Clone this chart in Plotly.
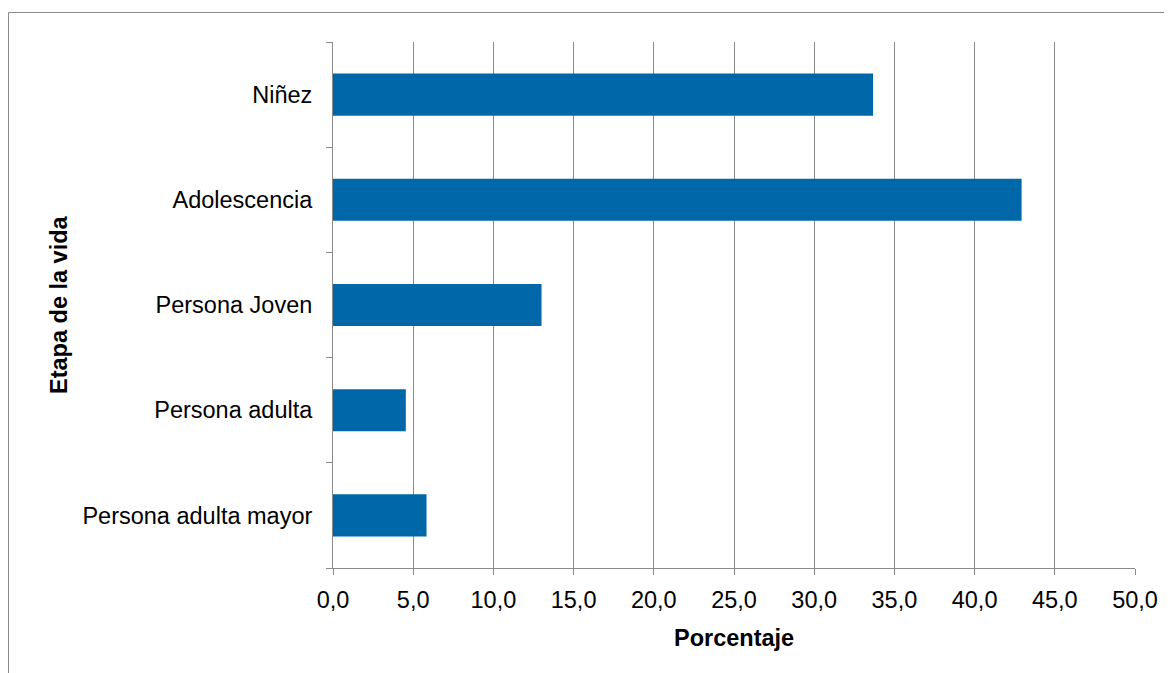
import plotly.graph_objects as go

categories = ["Niñez", "Adolescencia", "Persona Joven", "Persona adulta", "Persona adulta mayor"]
values = [33.67, 42.93, 13.0, 4.54, 5.83]
x_ticks = [0, 5, 10, 15, 20, 25, 30, 35, 40, 45, 50]

# page body has an 8px margin, so figure coords = screen coords - 8
OFF = 8
W, H = 1172, 673
PX0, PX1, PY0, PY1 = 333 - OFF, 1135 - OFF, 42 - OFF, 568 - OFF
L, R, T, B = PX0, W - PX1, PY0, H - PY1
PW, PH = PX1 - PX0, PY1 - PY0
FONT = "Liberation Sans, Arial, sans-serif"
FS = 23.5
GRID = "#8a8a8a"

fig = go.Figure(go.Bar(
    y=categories, x=values, orientation="h",
    marker=dict(color="#0068a9", line=dict(width=0)),
))

fig.update_layout(
    width=W, height=H,
    margin=dict(l=L, r=R, t=T, b=B, autoexpand=False),
    paper_bgcolor="white", plot_bgcolor="white",
    font=dict(family=FONT, size=FS, color="black"),
    bargap=0.6,
    showlegend=False,
    separators=",.",
    xaxis=dict(
        range=[0, 50], tickvals=x_ticks, tickformat=".1f",
        showgrid=True, gridcolor=GRID, gridwidth=1,
        showline=True, linecolor=GRID, linewidth=1,
        ticks="outside", ticklen=6, tickcolor=GRID, tickwidth=1,
        zeroline=False, fixedrange=True,
        ticklabelstandoff=5,
    ),
    yaxis=dict(
        categoryorder="array", categoryarray=categories[::-1],
        showgrid=False,
        showline=True, linecolor=GRID, linewidth=1,
        ticks="outside", ticklen=6, tickcolor=GRID, tickwidth=1,
        tickson="boundaries",
        zeroline=False, fixedrange=True,
        ticklabelstandoff=15,
    ),
    annotations=[
        dict(text="<b>Porcentaje</b>", xref="paper", yref="paper",
             x=0.5, y=-((638 - OFF) - PY1) / PH, xanchor="center", yanchor="middle",
             showarrow=False, font=dict(family=FONT, size=FS, color="black")),
        dict(text="<b>Etapa de la vida</b>", xref="paper", yref="paper",
             x=-(PX0 - (59 - OFF)) / PW, y=0.5, xanchor="center", yanchor="middle",
             textangle=-90,
             showarrow=False, font=dict(family=FONT, size=FS, color="black")),
    ],
    shapes=[
        dict(type="rect", xref="paper", yref="paper", layer="below",
             x0=-(PX0 - 0.5) / PW, x1=(W + 20 - PX0) / PW,
             y0=-(H + 20 - PY1) / PH,
             y1=1 + (PY0 - 4.5) / PH,
             line=dict(color=GRID, width=1), fillcolor="rgba(0,0,0,0)"),
    ],
)

fig.write_html("out.html")
